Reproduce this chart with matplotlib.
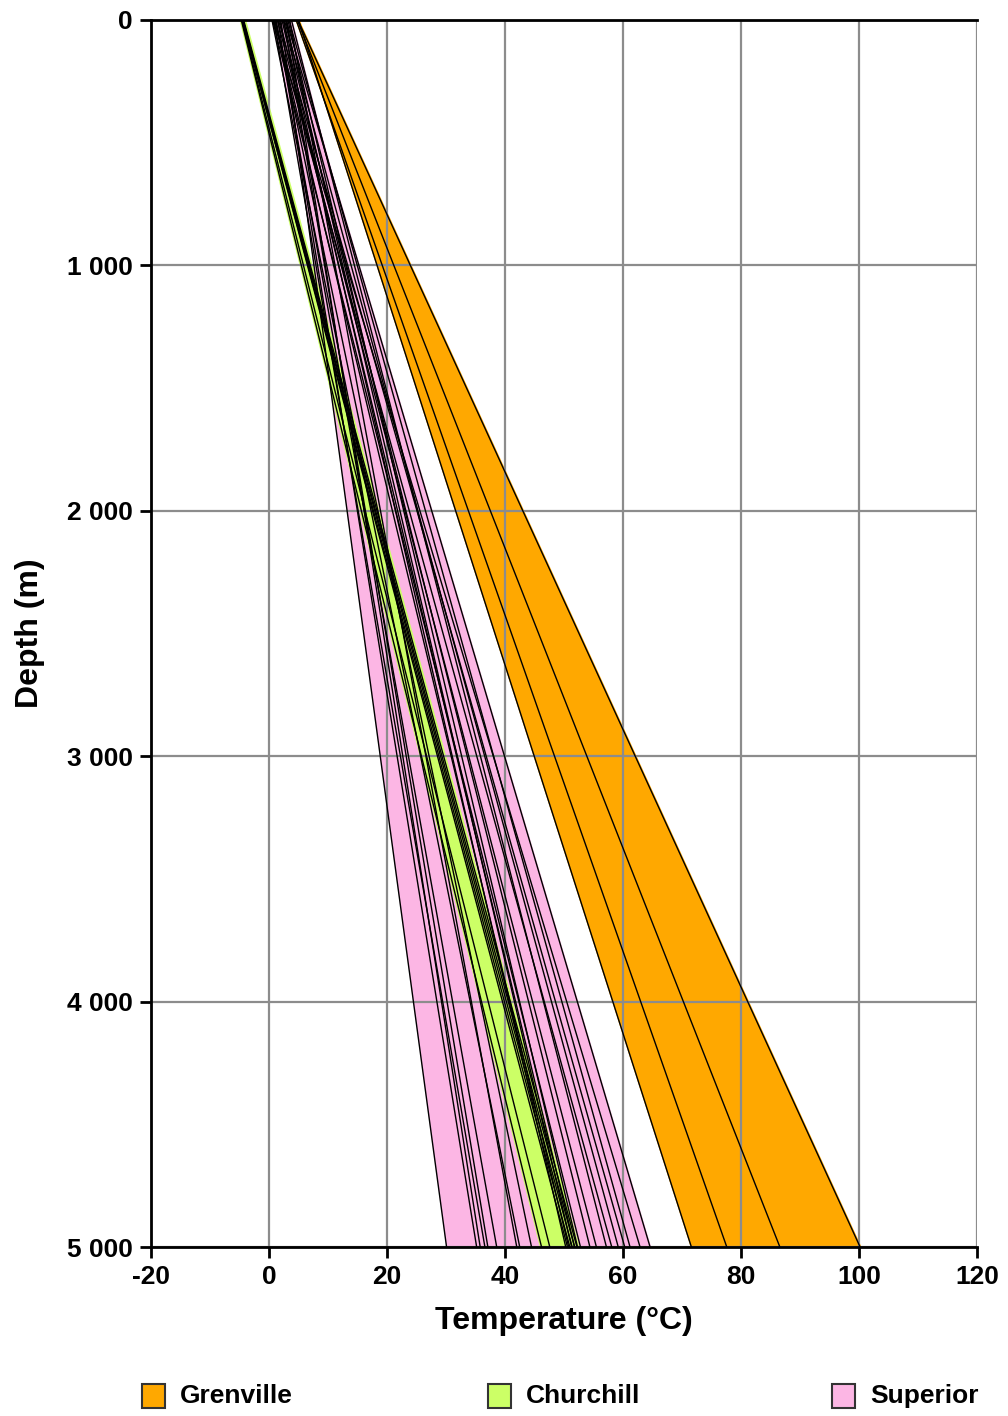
import numpy as np
import matplotlib
matplotlib.use("Agg")
import matplotlib.pyplot as plt
from matplotlib.patches import Rectangle
from matplotlib.ticker import FuncFormatter

plt.rcParams['font.family'] = ['Liberation Sans', 'DejaVu Sans']
plt.rcParams['font.weight'] = 'bold'
plt.rcParams['axes.unicode_minus'] = False

# temperature profiles: surface temperature and temperature at 5000 m [deg C]
depth_max = 5000

grenville_t0 = [5.0, 4.6, 4.8, 4.9]
grenville_t5000 = [71.6, 77.6, 86.6, 100.2]

churchill_t0 = [-4.7, -4.6, -4.5, -4.5, -4.4, -4.4, -4.3]
churchill_t5000 = [46.2, 47.6, 50.6, 51.0, 51.4, 51.8, 52.2]

superior_t0 = [2.0, 1.5, 3.0, 0.8, 2.5, 1.2, 3.5, 0.5, 2.2, 1.0, 2.8, 1.8,
               3.2, 0.6, 2.4, 1.4, 3.8, 0.9, 2.6, 1.6, 3.4, 0.7, 2.9, 1.1]
superior_t5000 = [30.1, 35.2, 35.8, 36.6, 37.1, 38.6, 42.0, 42.5, 50.3, 50.8,
                  51.3, 51.8, 52.3, 52.8, 54.4, 55.5, 57.2, 58.1, 59.2, 60.3,
                  61.2, 62.9, 64.6, 44.5]

names = ['Grenville', 'Churchill', 'Superior']
colors = {'Grenville': '#ffa800', 'Churchill': '#ccff66', 'Superior': '#fcb6e4'}
edge_lw = {'Grenville': 1.5, 'Churchill': 3.0, 'Superior': 1.0}
profiles = {
    'Grenville': (grenville_t0, grenville_t5000),
    'Churchill': (churchill_t0, churchill_t5000),
    'Superior': (superior_t0, superior_t5000),
}

fig = plt.figure(figsize=(10.08, 14.16), dpi=100)
ax = fig.add_axes([0.1498, 0.1193, 0.9692 - 0.1498, 0.9859 - 0.1193])

z = np.linspace(0, depth_max, 200)
for name in ['Grenville', 'Superior', 'Churchill']:
    t0 = np.array(profiles[name][0])
    t1 = np.array(profiles[name][1])
    col = colors[name]
    temps = t0[:, None] + (t1 - t0)[:, None] * z[None, :] / depth_max
    ax.fill_betweenx(z, temps.min(axis=0), temps.max(axis=0), facecolor=col,
                     edgecolor=col, lw=edge_lw[name], zorder=1)
    for a, b in zip(t0, t1):
        ax.plot([a, b], [0, depth_max], color='black', lw=1.0, zorder=2)

ax.set_axisbelow('line')
ax.grid(True, color='#8c8c8c', lw=1.6)
ax.set_xlim(-20, 120)
ax.set_ylim(depth_max, 0)
ax.set_xticks(range(-20, 121, 20))
ax.set_yticks(range(0, depth_max + 1, 1000))
ax.yaxis.set_major_formatter(FuncFormatter(lambda v, p: f"{int(v):,}".replace(",", " ")))
ax.tick_params(direction='out', length=8, width=2, labelsize=19, pad=5)
for s in ['left', 'bottom', 'top']:
    ax.spines[s].set_linewidth(2)
ax.spines['right'].set_visible(False)

ax.set_xlabel('Temperature (°C)', fontsize=23, fontweight='bold', labelpad=12)
ax.set_ylabel('Depth (m)', fontsize=23, fontweight='bold', labelpad=16)

# legend boxes along the bottom
W, H = 1008.0, 1416.0
leg_x = [142, 488, 832]
for name, x in zip(names, leg_x):
    fig.patches.append(Rectangle((x / W, 1 - 1408 / H), 23 / W, 24 / H,
                                 transform=fig.transFigure, facecolor=colors[name],
                                 edgecolor='#333333', lw=1.5))
    fig.text((x + 38) / W, 1 - 1396 / H, name, fontsize=19, fontweight='bold',
             va='center', ha='left')

fig.savefig('out.png', dpi=100)
